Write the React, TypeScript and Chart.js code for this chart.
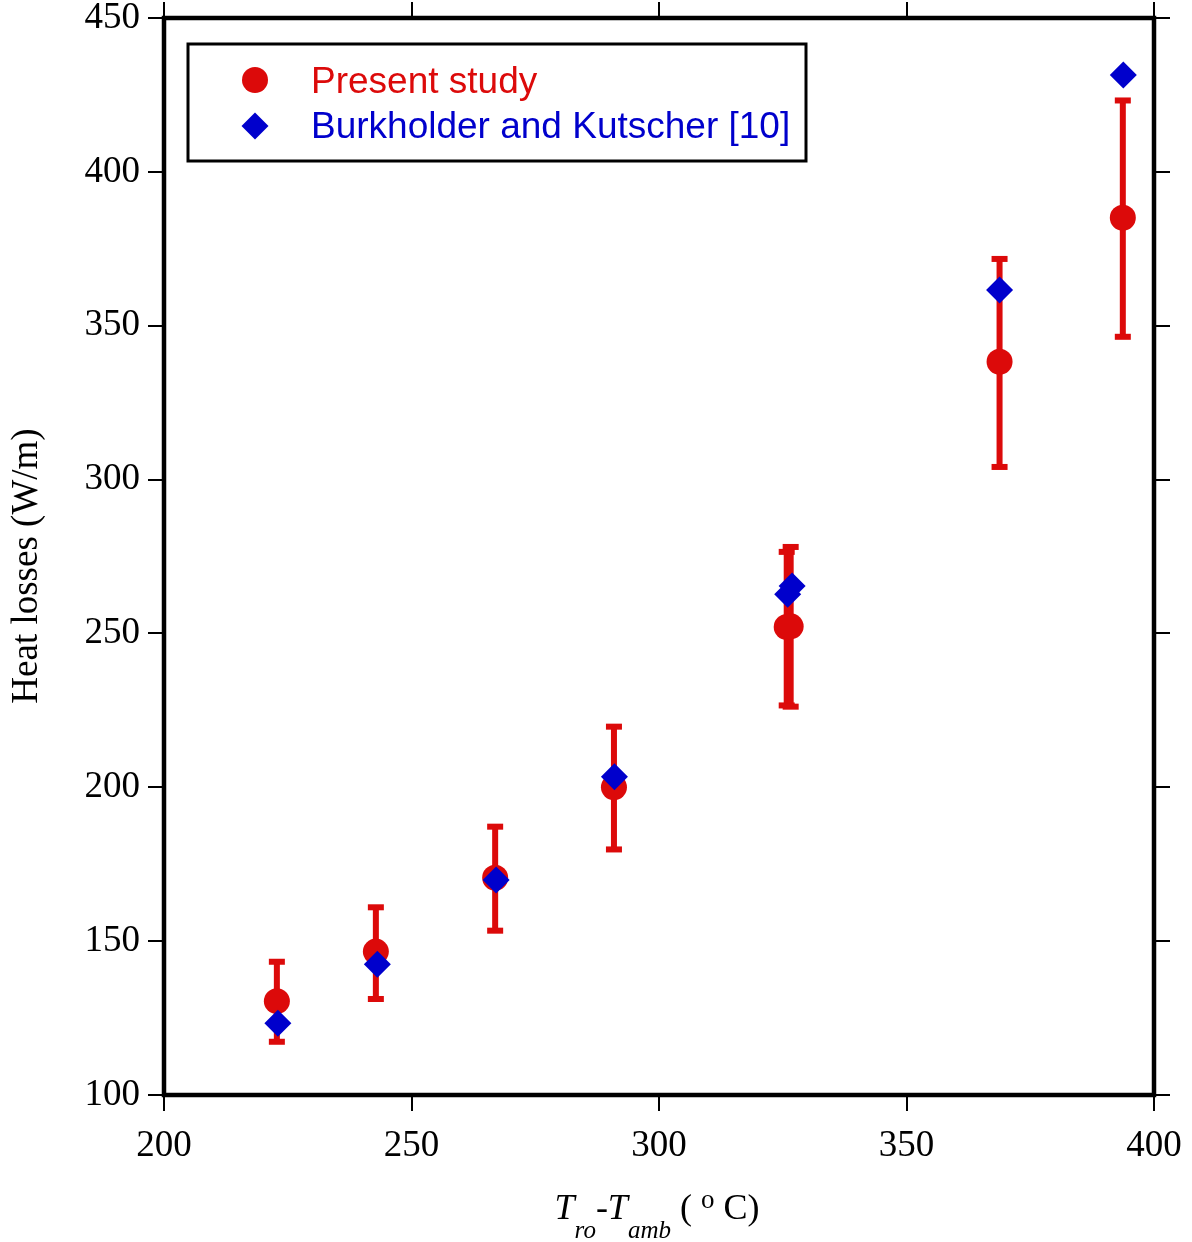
import React, { useEffect, useRef } from "react";
import { Chart, registerables } from "chart.js";

Chart.register(...registerables);

// ---- Data ----
const presentX = [222.8, 242.8, 266.9, 290.9, 325.8, 326.6, 368.8, 393.7];
const presentY = [130.5, 146.6, 170.6, 200.0, 252.1, 252.3, 338.3, 385.1];
const presentHigh = [143.3, 161.0, 187.2, 219.7, 276.5, 278.1, 371.7, 423.2];
const presentLow = [117.3, 131.2, 153.4, 179.8, 226.6, 226.2, 304.1, 346.4];

const burkX = [223.0, 243.1, 267.1, 291.0, 326.0, 326.9, 368.8, 393.8];
const burkY = [123.3, 142.5, 169.9, 203.4, 262.7, 265.4, 361.6, 431.5];

const xTicks = [200, 250, 300, 350, 400];
const yTicks = [100, 150, 200, 250, 300, 350, 400, 450];

const seriesNames = ["Present study", "Burkholder and Kutscher [10]"];
const yTitle = "Heat losses (W/m)";

const RED = "#DC0A0A";
const BLUE = "#0000CC";
const SERIF = '"Liberation Serif", "Times New Roman", serif';
const SANS = '"Liberation Sans", Arial, sans-serif';

function fixBox(prop: "width" | "height", size: number) {
  return (s: any) => {
    s[prop] = size;
    s.paddingTop = 0;
    s.paddingBottom = 0;
    s.paddingLeft = 0;
    s.paddingRight = 0;
  };
}

export default function App() {
  const ref = useRef<HTMLCanvasElement | null>(null);

  useEffect(() => {
    const canvas = ref.current;
    if (!canvas) return;

    const errorBars = {
      id: "errorBars",
      beforeDatasetsDraw(chart: any) {
        const ctx = chart.ctx;
        const xs = chart.scales.x;
        const ys = chart.scales.y;
        ctx.save();
        ctx.fillStyle = RED;
        for (let i = 0; i < presentX.length; i++) {
          const px = xs.getPixelForValue(presentX[i]);
          const hi = ys.getPixelForValue(presentHigh[i]);
          const lo = ys.getPixelForValue(presentLow[i]);
          ctx.fillRect(px - 3, hi, 6, lo - hi);
          ctx.fillRect(px - 8, hi - 3, 16, 6);
          ctx.fillRect(px - 8, lo - 3, 16, 6);
        }
        ctx.restore();
      },
    };

    const decor = {
      id: "decor",
      afterDraw(chart: any) {
        const ctx = chart.ctx;
        const a = chart.chartArea;
        ctx.save();
        // frame
        ctx.strokeStyle = "#000";
        ctx.lineWidth = 4.5;
        ctx.strokeRect(a.left, a.top, a.right - a.left, a.bottom - a.top);

        // legend box
        ctx.lineWidth = 3;
        ctx.strokeRect(188, 44, 618, 117);
        ctx.fillStyle = RED;
        ctx.beginPath();
        ctx.arc(255, 80, 13, 0, Math.PI * 2);
        ctx.fill();
        ctx.fillStyle = BLUE;
        ctx.beginPath();
        ctx.moveTo(255, 126 - 13.5);
        ctx.lineTo(255 + 13.5, 126);
        ctx.lineTo(255, 126 + 13.5);
        ctx.lineTo(255 - 13.5, 126);
        ctx.closePath();
        ctx.fill();
        ctx.font = `37px ${SANS}`;
        ctx.textBaseline = "middle";
        ctx.textAlign = "left";
        ctx.fillStyle = RED;
        ctx.fillText(seriesNames[0], 311, 83);
        ctx.fillStyle = BLUE;
        ctx.fillText(seriesNames[1], 311, 128);

        // y title
        ctx.fillStyle = "#000";
        ctx.save();
        ctx.translate(27, 566);
        ctx.rotate(-Math.PI / 2);
        ctx.font = `37px ${SERIF}`;
        ctx.textAlign = "center";
        ctx.textBaseline = "middle";
        ctx.fillText(yTitle, 0, 0);
        ctx.restore();

        // x title with subscripts
        const base = 1219;
        const pieces = [
          { t: "T", f: `italic 36px ${SERIF}`, dy: 0 },
          { t: "ro", f: `italic 25px ${SERIF}`, dy: 19 },
          { t: "-", f: `36px ${SERIF}`, dy: 0 },
          { t: "T", f: `italic 36px ${SERIF}`, dy: 0 },
          { t: "amb", f: `italic 25px ${SERIF}`, dy: 19 },
          { t: " ( ", f: `36px ${SERIF}`, dy: 0 },
          { t: "o", f: `27px ${SERIF}`, dy: -11 },
          { t: " C)", f: `36px ${SERIF}`, dy: 0 },
        ];
        ctx.textAlign = "left";
        ctx.textBaseline = "alphabetic";
        let total = 0;
        const widths: number[] = [];
        for (const p of pieces) {
          ctx.font = p.f;
          const w = ctx.measureText(p.t).width;
          widths.push(w);
          total += w;
        }
        let x = (a.left + a.right) / 2 - total / 2 - 2;
        pieces.forEach((p, i) => {
          ctx.font = p.f;
          ctx.fillText(p.t, x, base + p.dy);
          x += widths[i];
        });
        ctx.restore();
      },
    };

    const gridOpts = {
      drawOnChartArea: false,
      drawTicks: true,
      tickLength: 16,
      color: "#000",
      lineWidth: 2,
    };

    const chart = new Chart(canvas, {
      type: "scatter",
      data: {
        datasets: [
          {
            label: seriesNames[0],
            data: presentX.map((v, i) => ({ x: v, y: presentY[i] })),
            backgroundColor: RED,
            borderColor: RED,
            borderWidth: 0,
            pointStyle: "circle",
            pointRadius: 13,
            order: 1,
            clip: false as any,
          },
          {
            label: seriesNames[1],
            data: burkX.map((v, i) => ({ x: v, y: burkY[i] })),
            backgroundColor: BLUE,
            borderColor: BLUE,
            borderWidth: 0,
            pointStyle: "rectRot",
            pointRadius: 13.5,
            order: 0,
            clip: false as any,
          },
        ],
      },
      options: {
        responsive: false,
        animation: false,
        devicePixelRatio: 1,
        layout: { padding: 0 },
        plugins: {
          legend: { display: false },
          tooltip: { enabled: false },
        },
        scales: {
          x: {
            type: "linear",
            position: "bottom",
            min: 200,
            max: 400,
            afterBuildTicks: (s: any) => {
              s.ticks = xTicks.map((v) => ({ value: v }));
            },
            afterFit: fixBox("height", 147),
            grid: gridOpts,
            border: { display: false },
            ticks: {
              padding: 13,
              color: "#000",
              font: { family: SERIF, size: 37, lineHeight: 1.2 },
              maxRotation: 0,
            },
          },
          x2: {
            type: "linear",
            position: "top",
            min: 200,
            max: 400,
            afterBuildTicks: (s: any) => {
              s.ticks = xTicks.map((v) => ({ value: v }));
            },
            afterFit: fixBox("height", 18),
            grid: gridOpts,
            border: { display: false },
            ticks: { display: false },
          },
          y: {
            type: "linear",
            position: "left",
            min: 100,
            max: 450,
            afterBuildTicks: (s: any) => {
              s.ticks = yTicks.map((v) => ({ value: v }));
            },
            afterFit: fixBox("width", 164),
            grid: gridOpts,
            border: { display: false },
            ticks: {
              padding: 8,
              color: "#000",
              font: { family: SERIF, size: 37, lineHeight: 1 },
            },
          },
          y2: {
            type: "linear",
            position: "right",
            min: 100,
            max: 450,
            afterBuildTicks: (s: any) => {
              s.ticks = yTicks.map((v) => ({ value: v }));
            },
            afterFit: fixBox("width", 38),
            grid: gridOpts,
            border: { display: false },
            ticks: { display: false },
          },
        },
      },
      plugins: [errorBars, decor],
    } as any);

    return () => chart.destroy();
  }, []);

  return (
    <div style={{ position: "absolute", left: 0, top: 0, width: 1192, height: 1242, background: "#fff" }}>
      <canvas ref={ref} width={1192} height={1242} style={{ display: "block" }} />
    </div>
  );
}
